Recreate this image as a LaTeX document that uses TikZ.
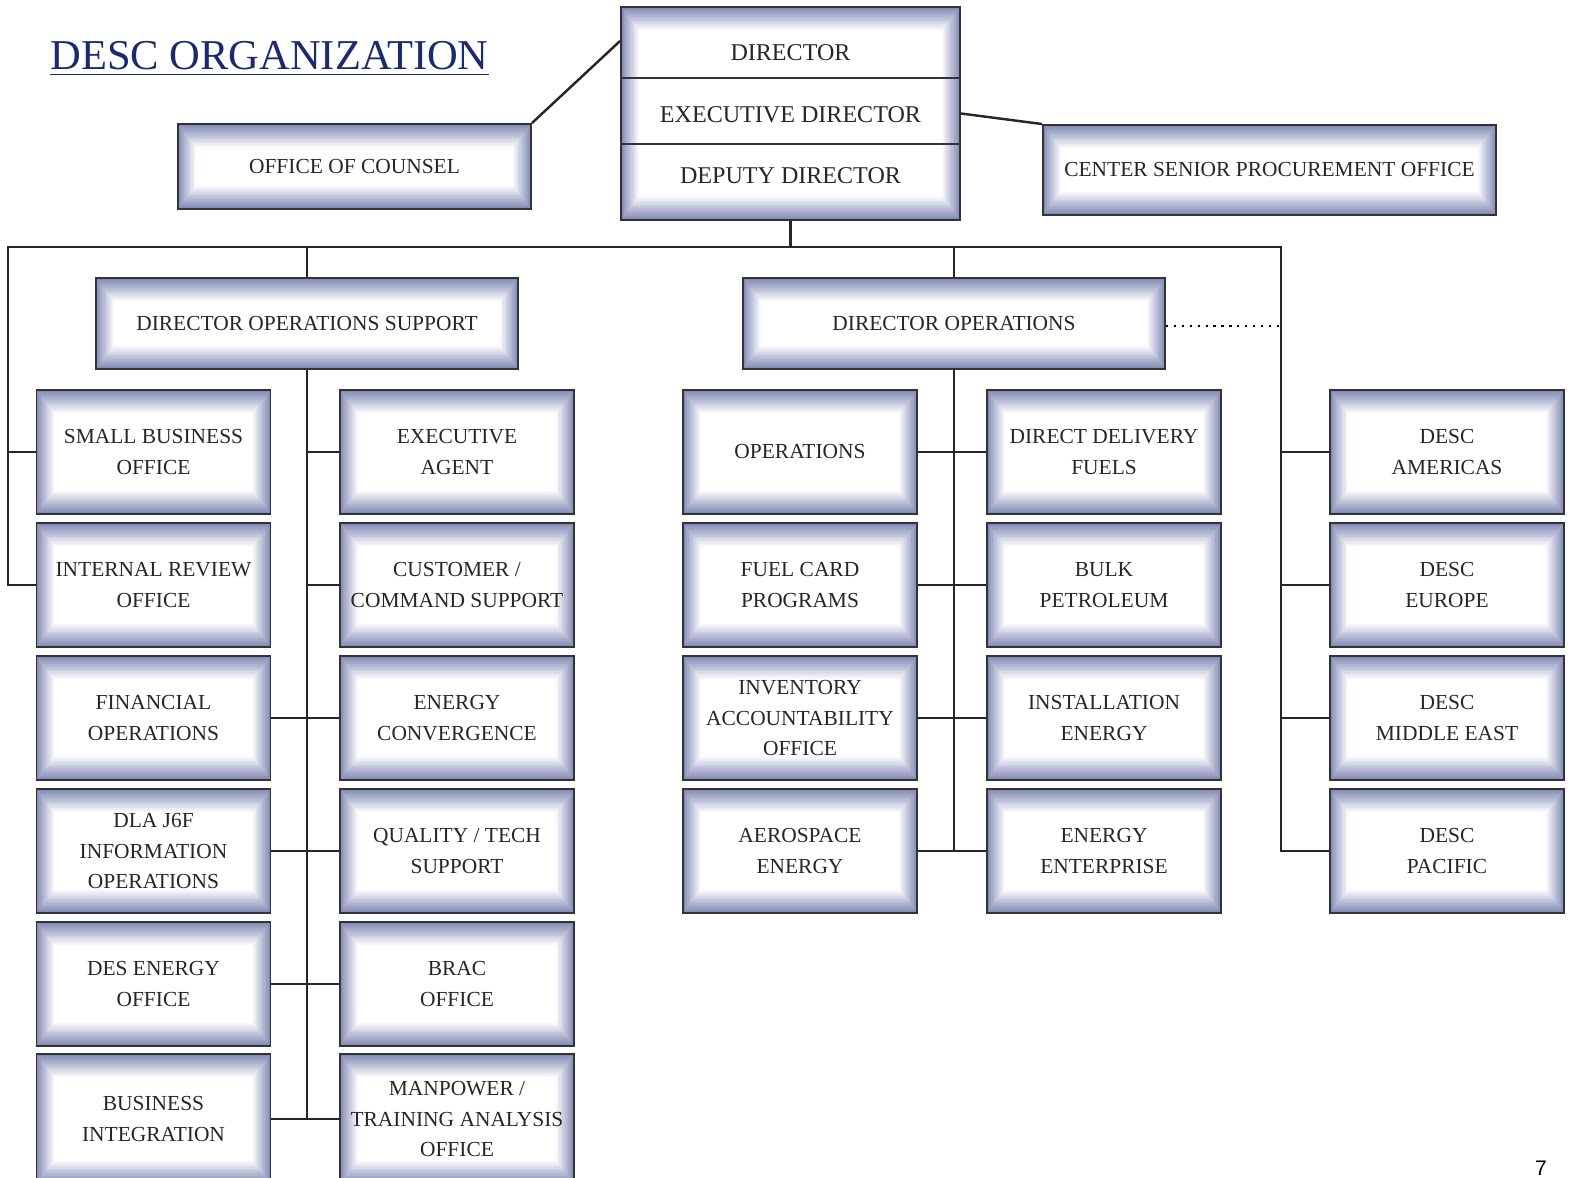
\documentclass[tikz,border=0pt]{standalone}
\usepackage{fontspec}
\setmainfont{Liberation Serif}
\newfontfamily\pagefont{Liberation Sans}
\usetikzlibrary{calc}

\definecolor{boxedge}{RGB}{132,140,182}
\definecolor{boxline}{RGB}{50,50,56}
\definecolor{titleblue}{RGB}{27,42,110}

\tikzset{
  bevel/.style={path picture={
    \foreach \k in {0,...,12}{
      \pgfmathtruncatemacro\mixval{100-\k*8.3}
      \fill[boxedge!\mixval!white]
        ([xshift=\k*0.85pt,yshift=\k*1.1pt]path picture bounding box.south west) rectangle
        ([xshift=-\k*0.85pt,yshift=-\k*1.1pt]path picture bounding box.north east);
    }
  }},
  boxtext/.style={font=\fontsize{12.2}{17.4}\selectfont, text=black!85},
  headtext/.style={font=\fontsize{13.7}{17}\selectfont, text=black!85},
  unit/.style={draw=boxline, line width=1.1pt, bevel, boxtext, align=center,
    inner sep=0pt, minimum width=46.8mm, minimum height=24.8mm},
  lastrow/.style={unit, minimum height=26mm},
  wide/.style={unit, minimum width=84.4mm, minimum height=18.2mm},
  link/.style={line width=1.4pt, draw=black!85},
}

\begin{document}
\begin{tikzpicture}[x=0.2mm, y=-0.2mm]
\useasboundingbox (0,0) rectangle (1571,1178);
% Title
\node[anchor=base west, inner sep=0pt, text=titleblue, font=\fontsize{24.2}{28}\selectfont] (title) at (50,70) {DESC ORGANIZATION};
\draw[titleblue, line width=0.8pt] ([yshift=-0.85mm]title.base west) -- ([yshift=-0.85mm]title.base east);
% Top level
\node[unit, minimum width=70.6mm, minimum height=17mm] (counsel) at (354.5,166.5) {OFFICE OF COUNSEL};
\node[unit, minimum width=67.8mm, minimum height=42.6mm] (director) at (790.5,113.5) {};
\node[headtext] (dirtop) at (790.5,53) {DIRECTOR};
\node[headtext] (dirmid) at (790.5,115) {EXECUTIVE DIRECTOR};
\node[headtext] (dirlow) at (790.5,176) {DEPUTY DIRECTOR};
\draw[boxline, line width=1.1pt] ([yshift=-14.4mm]director.north west) -- ([yshift=-14.4mm]director.north east);
\draw[boxline, line width=1.1pt] ([yshift=-27.6mm]director.north west) -- ([yshift=-27.6mm]director.north east);
\node[unit, minimum width=90.6mm, minimum height=18mm] (cspo) at (1269.5,170) {CENTER SENIOR PROCUREMENT OFFICE};
\node[wide] (dos) at (307,323.5) {DIRECTOR OPERATIONS SUPPORT};
\node[wide] (dops) at (954,323.5) {DIRECTOR OPERATIONS};
% Operations support column
\node[unit] (sbo) at (153.5,452) {SMALL BUSINESS\\OFFICE};
\node[unit] (iro) at (153.5,585) {INTERNAL REVIEW\\OFFICE};
\node[unit] (fin) at (153.5,718) {FINANCIAL\\OPERATIONS};
\node[unit] (jsix) at (153.5,851) {DLA J6F\\INFORMATION\\OPERATIONS};
\node[unit] (desoff) at (153.5,984) {DES ENERGY\\OFFICE};
\node[lastrow] (bizint) at (153.5,1119) {BUSINESS\\INTEGRATION};
\node[unit] (exag) at (457,452) {EXECUTIVE\\AGENT};
\node[unit] (ccs) at (457,585) {CUSTOMER /\\COMMAND SUPPORT};
\node[unit] (econv) at (457,718) {ENERGY\\CONVERGENCE};
\node[unit] (qts) at (457,851) {QUALITY / TECH\\SUPPORT};
\node[unit] (brac) at (457,984) {BRAC\\OFFICE};
\node[lastrow] (mpta) at (457,1119) {MANPOWER /\\TRAINING ANALYSIS\\OFFICE};
% Operations column
\node[unit] (ops) at (800,452) {OPERATIONS};
\node[unit] (fcp) at (800,585) {FUEL CARD\\PROGRAMS};
\node[unit] (invacc) at (800,718) {INVENTORY\\ACCOUNTABILITY\\OFFICE};
\node[unit] (aero) at (800,851) {AEROSPACE\\ENERGY};
\node[unit] (ddf) at (1104,452) {DIRECT DELIVERY\\FUELS};
\node[unit] (bulk) at (1104,585) {BULK\\PETROLEUM};
\node[unit] (inst) at (1104,718) {INSTALLATION\\ENERGY};
\node[unit] (eent) at (1104,851) {ENERGY\\ENTERPRISE};
% Regions
\node[unit] (amer) at (1447,452) {DESC\\AMERICAS};
\node[unit] (eur) at (1447,585) {DESC\\EUROPE};
\node[unit] (mide) at (1447,718) {DESC\\MIDDLE EAST};
\node[unit] (pac) at (1447,851) {DESC\\PACIFIC};
% Connectors
\coordinate (busL) at (8,247);
\coordinate (busR) at (1281,247);
\draw[link] (counsel.north east) -- ([yshift=-7mm]director.north west);
\draw[link] (director.east) -- (cspo.north west);
\draw[link] (director.south) -- (director.south |- busL);
\draw[link] (iro.west) -| (busL) -- (busR) |- (pac.west);
\draw[link] (busL |- sbo.west) -- (sbo.west);
\draw[link] (dos.north) -- (dos.north |- busL);
\draw[link] (dops.north) -- (dops.north |- busL);
\draw[line width=1.4pt, dash pattern=on 1.3pt off 3.2pt] ([yshift=-0.5mm]dops.east) -- ([yshift=-0.5mm]dops.east -| busR);
\draw[link] (busR |- amer.west) -- (amer.west);
\draw[link] (busR |- eur.west) -- (eur.west);
\draw[link] (busR |- mide.west) -- (mide.west);
% Support spine
\draw[link] (dos.south) -- (dos.south |- mpta.west);
\draw[link] (dos.south |- exag.west) -- (exag.west);
\draw[link] (dos.south |- ccs.west) -- (ccs.west);
\draw[link] (fin.east) -- (econv.west);
\draw[link] (jsix.east) -- (qts.west);
\draw[link] (desoff.east) -- (brac.west);
\draw[link] (bizint.east) -- (mpta.west);
% Operations spine
\draw[link] (dops.south) -- (dops.south |- eent.west);
\draw[link] (ops.east) -- (ddf.west);
\draw[link] (fcp.east) -- (bulk.west);
\draw[link] (invacc.east) -- (inst.west);
\draw[link] (aero.east) -- (eent.west);
% Page number
\node[anchor=south, inner sep=0pt, font=\pagefont\fontsize{12}{14}\selectfont] (pagenum) at (1541,1176) {7};
\end{tikzpicture}
\end{document}
